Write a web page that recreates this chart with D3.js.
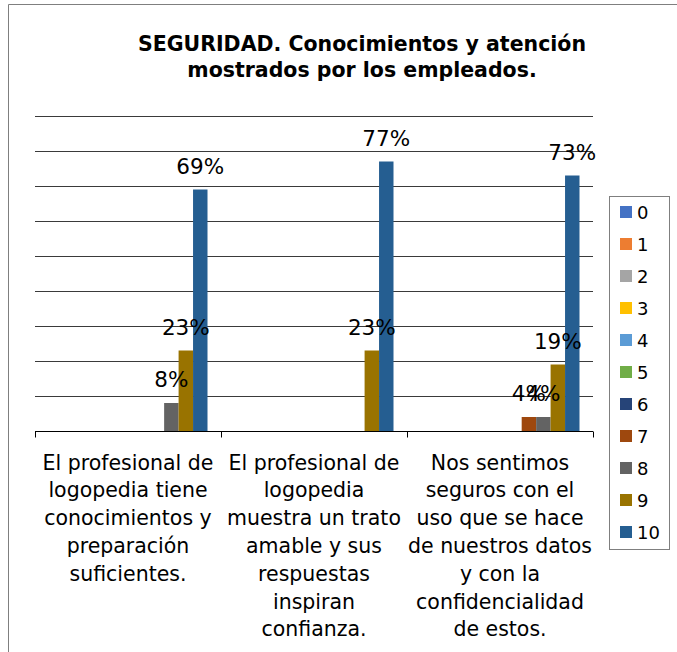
<!DOCTYPE html>
<html>
<head>
<meta charset="utf-8">
<script src="https://cdn.jsdelivr.net/npm/d3@7"></script>
<style>
  body { margin: 0; background: #fff; }
  svg { display: block; }
</style>
</head>
<body>
<div id="chart"></div>
<script>
// data
var categories = [
  ["El profesional de", "logopedia tiene", "conocimientos y", "preparación", "suficientes."],
  ["El profesional de", "logopedia", "muestra un trato", "amable y sus", "respuestas", "inspiran", "confianza."],
  ["Nos sentimos", "seguros con el", "uso que se hace", "de nuestros datos", "y con la", "confidencialidad", "de estos."]
];
var seriesNames = ["0", "1", "2", "3", "4", "5", "6", "7", "8", "9", "10"];
var seriesColors = ["#4472C4", "#ED7D31", "#A5A5A5", "#FFC000", "#5B9BD5", "#70AD47",
                    "#264478", "#9E480E", "#636363", "#997300", "#255E91"];
// percentage per series, one value per category
var v0 = [0, 0, 0];
var v1 = [0, 0, 0];
var v2 = [0, 0, 0];
var v3 = [0, 0, 0];
var v4 = [0, 0, 0];
var v5 = [0, 0, 0];
var v6 = [0, 0, 0];
var v7 = [0, 0, 4];
var v8 = [8, 0, 4];
var v9 = [23, 23, 19];
var v10 = [69, 77, 73];
var yTicks = [0, 10, 20, 30, 40, 50, 60, 70, 80, 90];

var seriesValues = [v0, v1, v2, v3, v4, v5, v6, v7, v8, v9, v10];

var w = 677, h = 652;

var svg = d3.select("#chart").append("svg")
  .attr("width", w)
  .attr("height", h);

// outer frame (left and top edges visible)
svg.append("path")
  .attr("d", "M8.5,652 L8.5,4.5 L677,4.5")
  .attr("fill", "none")
  .attr("stroke", "#7f7f7f")
  .attr("stroke-width", 1);

// title
var title = svg.append("text")
  .attr("text-anchor", "middle")
  .attr("font-family", "DejaVu Sans, sans-serif")
  .attr("font-weight", "bold")
  .attr("font-size", 20.5)
  .attr("fill", "#000");
title.append("tspan").attr("x", 362).attr("y", 51).text("SEGURIDAD. Conocimientos y atención");
title.append("tspan").attr("x", 362).attr("y", 77).text("mostrados por los empleados.");

// scales
var x0 = d3.scaleBand()
  .domain(d3.range(categories.length))
  .range([35, 593])
  .padding(0);

var x1 = d3.scaleBand()
  .domain(seriesNames)
  .range([13.5, x0.bandwidth() - 13.5])
  .padding(0);

var y = d3.scaleLinear()
  .domain([0, 90])
  .range([431, 116]);

// gridlines
svg.append("g")
  .selectAll("line")
  .data(yTicks.slice(1))
  .join("line")
  .attr("x1", 35)
  .attr("x2", 593)
  .attr("y1", function(d) { return Math.round(y(d)) + 0.5; })
  .attr("y2", function(d) { return Math.round(y(d)) + 0.5; })
  .attr("stroke", "#3a3a3a")
  .attr("stroke-width", 1);

// bars
var groups = svg.append("g")
  .selectAll("g")
  .data(seriesNames)
  .join("g")
  .attr("fill", function(d, i) { return seriesColors[i]; });

groups.selectAll("rect")
  .data(function(s, si) {
    return seriesValues[si].map(function(v, ci) { return { s: s, c: ci, v: v }; });
  })
  .join("rect")
  .attr("x", function(d) { return x0(d.c) + x1(d.s); })
  .attr("width", x1.bandwidth())
  .attr("y", function(d) { return y(d.v); })
  .attr("height", function(d) { return y(0) - y(d.v); });

// data labels
var labels = [];
seriesNames.forEach(function(s, si) {
  seriesValues[si].forEach(function(v, ci) {
    if (v > 0) labels.push({ s: s, c: ci, v: v });
  });
});

svg.append("g")
  .selectAll("text")
  .data(labels)
  .join("text")
  .attr("text-anchor", "middle")
  .attr("font-family", "DejaVu Sans, sans-serif")
  .attr("font-size", 21.5)
  .attr("fill", "#000")
  .attr("x", function(d) { return x0(d.c) + x1(d.s) + x1.bandwidth() / 2; })
  .attr("y", function(d) { return y(d.v) - 16; })
  .text(function(d) { return d.v + "%"; });

// x axis
var axis = svg.append("g")
  .attr("transform", "translate(0," + (y(0) + 0.5) + ")");
axis.append("line")
  .attr("x1", 35).attr("x2", 593)
  .attr("stroke", "#000");
axis.selectAll(".tick")
  .data(d3.range(categories.length + 1))
  .join("line")
  .attr("class", "tick")
  .attr("x1", function(d) { return Math.round(35 + d * x0.bandwidth()) + 0.5; })
  .attr("x2", function(d) { return Math.round(35 + d * x0.bandwidth()) + 0.5; })
  .attr("y1", 0).attr("y2", 6)
  .attr("stroke", "#000");

// category labels
var catText = svg.append("g")
  .selectAll("text")
  .data(categories)
  .join("text")
  .attr("text-anchor", "middle")
  .attr("font-family", "DejaVu Sans, sans-serif")
  .attr("font-size", 20.5)
  .attr("fill", "#000");

catText.selectAll("tspan")
  .data(function(d, i) { return d.map(function(line) { return { line: line, c: i }; }); })
  .join("tspan")
  .attr("x", function(d) { return x0(d.c) + x0.bandwidth() / 2; })
  .attr("y", function(d, i) { return 469.5 + i * 27.8; })
  .text(function(d) { return d.line; });

// legend
var legend = svg.append("g");
legend.append("rect")
  .attr("x", 609.5).attr("y", 196.5)
  .attr("width", 60).attr("height", 353)
  .attr("fill", "#fff")
  .attr("stroke", "#7f7f7f");

var item = legend.selectAll("g")
  .data(seriesNames)
  .join("g")
  .attr("transform", function(d, i) { return "translate(620," + (212 + i * 32) + ")"; });
item.append("rect")
  .attr("x", 0).attr("y", -6)
  .attr("width", 12).attr("height", 12)
  .attr("fill", function(d, i) { return seriesColors[i]; });
item.append("text")
  .attr("x", 17).attr("y", 7)
  .attr("font-family", "DejaVu Sans, sans-serif")
  .attr("font-size", 18)
  .attr("fill", "#000")
  .text(function(d) { return d; });
</script>
</body>
</html>
